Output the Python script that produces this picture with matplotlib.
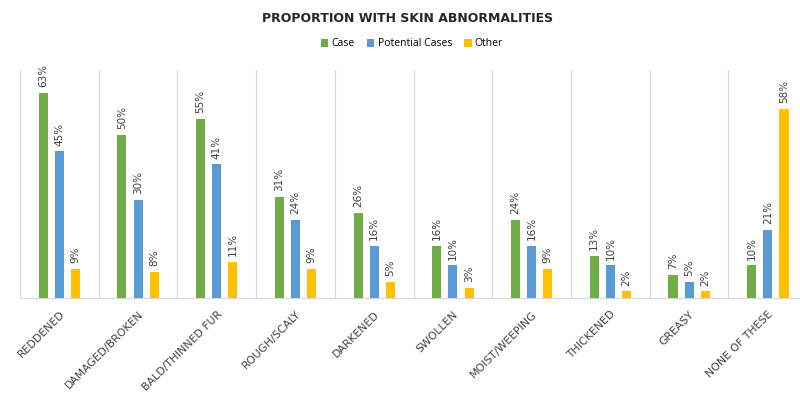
import numpy as np
import matplotlib
matplotlib.use("Agg")
import matplotlib.pyplot as plt
from matplotlib.patches import Patch

# Skin abnormality categories and percentages per group
categories = ["REDDENED", "DAMAGED/BROKEN", "BALD/THINNED FUR", "ROUGH/SCALY",
              "DARKENED", "SWOLLEN", "MOIST/WEEPING", "THICKENED", "GREASY",
              "NONE OF THESE"]
case = [63, 50, 55, 31, 26, 16, 24, 13, 7, 10]
potential = [45, 30, 41, 24, 16, 10, 16, 10, 5, 21]
other = [9, 8, 11, 9, 5, 3, 9, 2, 2, 58]

series_names = ["Case", "Potential Cases", "Other"]
colors = ["#70AD47", "#5B9BD5", "#FFC000"]

plt.rcParams['font.family'] = ['Open Sans', 'DejaVu Sans']

fig = plt.figure(figsize=(8, 4), dpi=100)
ax = fig.add_axes([0.025, 0.255, 0.984, 0.57])

x = np.arange(len(categories))
width = 0.115
offset = 0.205
for i, (vals, name, col) in enumerate(zip([case, potential, other], series_names, colors)):
    pos = x + (i - 1) * offset
    bars = ax.bar(pos, vals, width=width, color=col, label=name, zorder=3)
    for b, v in zip(bars, vals):
        ax.text(b.get_x() + b.get_width() / 2, v + 1.8, f"{v}%",
                rotation=90, ha='center', va='bottom', fontsize=7.5,
                color='#404040', family='DejaVu Sans')

ax.set_xlim(-0.5, len(categories) - 0.5)
ax.set_ylim(0, 70)
ax.set_yticks([])

# separators between categories
ax.set_xticks(np.arange(-0.5, len(categories), 1), minor=True)
ax.grid(True, which='minor', axis='x', color='#d9d9d9', linewidth=0.9, zorder=0)
ax.tick_params(axis='x', which='both', length=0, pad=8)
ax.set_xticks(x)
ax.set_xticklabels(categories, rotation=45, ha='right', rotation_mode='anchor',
                   fontsize=7.8, color='#404040', family='DejaVu Sans')

for s in ['top', 'right', 'left']:
    ax.spines[s].set_visible(False)
ax.spines['bottom'].set_color('#d9d9d9')

fig.text(0.51, 0.955, "PROPORTION WITH SKIN ABNORMALITIES", ha='center', va='center',
         fontsize=9, fontweight='bold', color='#262626', family='DejaVu Sans')

handles = [Patch(facecolor=c, label=n) for c, n in zip(colors, series_names)]
fig.legend(handles=handles, loc='center', bbox_to_anchor=(0.515, 0.89), ncol=3,
           frameon=False, fontsize=7.5, handlelength=0.7, handleheight=0.7,
           handletextpad=0.3, columnspacing=1.2)

fig.savefig("out.png", dpi=100)
